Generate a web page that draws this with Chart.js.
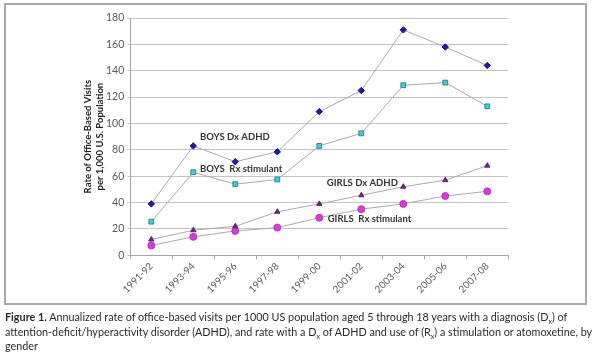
<!DOCTYPE html>
<html><head><meta charset="utf-8">
<script src="https://cdn.jsdelivr.net/npm/chart.js@4"></script>
<style>
html,body{margin:0;padding:0;background:#fff;}
#wrap{position:absolute;left:0;top:0;width:600px;height:305px;}
#box{position:absolute;left:4px;top:3px;width:579px;height:298px;border:2px solid #a8a8a8;pointer-events:none;}
#cap{position:absolute;left:5px;top:310px;width:595px;font-family:Lato,"Open Sans",sans-serif;font-size:10.8px;line-height:14.5px;color:#2a2a2a;white-space:nowrap;}
#cap b{font-weight:700;}
#cap sub{font-size:7px;vertical-align:-3px;line-height:0;}
</style></head><body>
<div id="wrap"><canvas id="c" width="600" height="305"></canvas></div>
<div id="box"></div>
<div id="cap"><b>Figure 1.</b> Annualized rate of office-based visits per 1000 US population aged 5 through 18 years with a diagnosis (D<sub>x</sub>) of<br>attention-deficit/hyperactivity disorder (ADHD), and rate with a D<sub>x</sub> of ADHD and use of (R<sub>x</sub>) a stimulation or atomoxetine, by<br>gender</div>
<script>
const categories = ["1991-92","1993-94","1995-96","1997-98","1999-00","2001-02","2003-04","2005-06","2007-08"];
const boysDx  = [39, 83, 71, 78.5, 109, 125, 171, 158, 144];
const boysRx  = [25.5, 63, 54, 57.5, 83, 92.5, 129, 131, 113];
const girlsDx = [12, 19, 22, 33, 39, 45.5, 52, 57, 68];
const girlsRx = [7.5, 14, 18.5, 21, 28.5, 35, 39, 45, 48.5];
const yTicks = [0, 20, 40, 60, 80, 100, 120, 140, 160, 180];
const seriesLabels = ["BOYS Dx ADHD", "BOYS  Rx stimulant", "GIRLS Dx ADHD", "GIRLS  Rx stimulant"];
const labelX = [1.16, 1.16, 4.18, 4.2];
const labelY = [90, 65.5, 55, 27.8];

const labelPlugin = {
  id: 'seriesLabels',
  afterDatasetsDraw(chart) {
    const {ctx, scales: {x, y}} = chart;
    ctx.save();
    ctx.font = 'bold 9.5px Lato, "Open Sans", sans-serif';
    ctx.fillStyle = '#333333';
    ctx.textAlign = 'left';
    ctx.textBaseline = 'middle';
    seriesLabels.forEach((t, i) => {
      const x0 = x.getPixelForValue(0), x1 = x.getPixelForValue(1);
      const px = x0 + (x1 - x0) * labelX[i];
      ctx.fillText(t, px, y.getPixelForValue(labelY[i]));
    });
    ctx.restore();
  }
};

const ds = (label, data, style, bg, border, r) => ({
  label, data, pointStyle: style, backgroundColor: bg, pointBackgroundColor: bg,
  pointBorderColor: border, pointBorderWidth: 1, pointRadius: r, pointHoverRadius: r,
  borderColor: '#a9a9a9', borderWidth: 1, tension: 0, fill: false
});

new Chart(document.getElementById('c'), {
  type: 'line',
  data: {
    labels: categories,
    datasets: [
      ds('Boys Dx', boysDx, 'rectRot', '#1c1ca8', '#10108a', 3.2),
      ds('Boys Rx', boysRx, 'rect', '#3fd0d6', '#2a8899', 3.4),
      ds('Girls Dx', girlsDx, 'triangle', '#6b2a80', '#5a1f6e', 3),
      ds('Girls Rx', girlsRx, 'circle', '#d93ad9', '#c22ec2', 3.5)
    ]
  },
  options: {
    responsive: false,
    animation: false,
    events: [],
    layout: { padding: { left: 82, top: 18, right: 91.7, bottom: 0 } },
    plugins: { legend: { display: false }, tooltip: { enabled: false } },
    scales: {
      x: {
        offset: true,
        grid: { offset: true, drawOnChartArea: false, drawTicks: true, tickLength: 4, color: '#a6a6a6' },
        border: { color: '#a6a6a6', width: 1 },
        ticks: { minRotation: 45, maxRotation: 45, color: '#595959', padding: 1,
                 font: { family: 'Lato, "Open Sans", sans-serif', size: 9.8 } },
        afterFit(s) { s.height = 49.7; }
      },
      y: {
        min: 0, max: 180,
        afterBuildTicks(s) { s.ticks = yTicks.map(v => ({ value: v })); },
        grid: { color: '#c4c4c4', tickLength: 3 },
        border: { color: '#a6a6a6', width: 1 },
        ticks: { color: '#595959', padding: 3,
                 font: { family: 'Lato, "Open Sans", sans-serif', size: 10.5 } },
        title: { display: true, text: ['Rate of Office-Based Visits', 'per 1,000 U.S. Population'],
                 color: '#222', padding: { top: 0, bottom: 0 },
                 font: { family: 'Lato, "Open Sans", sans-serif', size: 9.5, weight: 'bold', lineHeight: 1.25 } },
        afterFit(s) { s.width = 48.3; }
      }
    }
  },
  plugins: [labelPlugin]
});
</script>
</body></html>
